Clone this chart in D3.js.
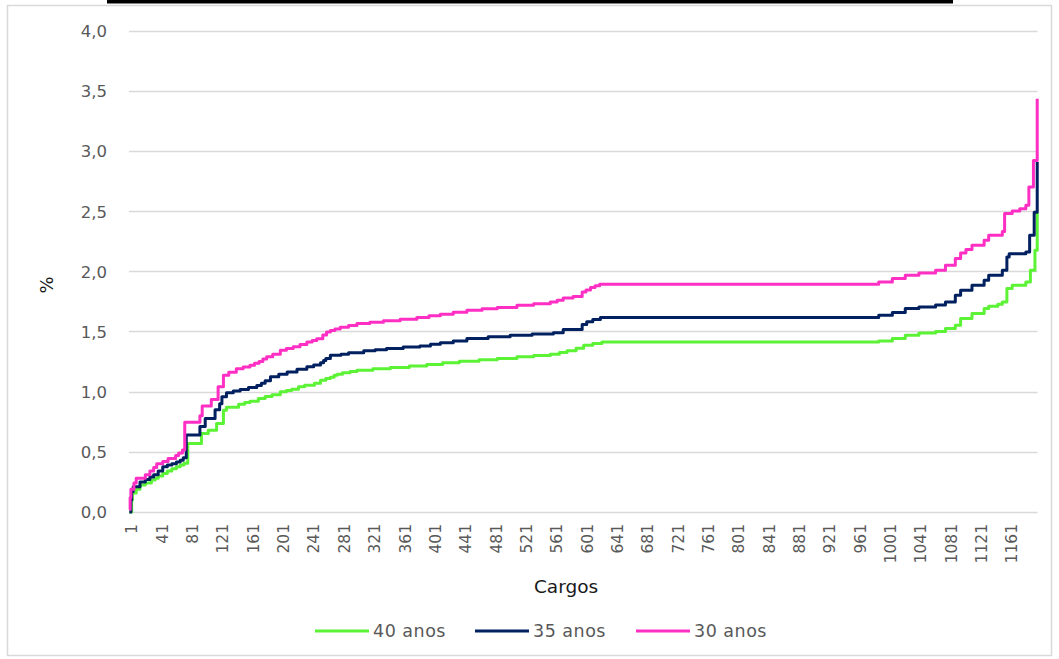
<!DOCTYPE html>
<html>
<head>
<meta charset="utf-8">
<script src="https://cdn.jsdelivr.net/npm/d3@7"></script>
<style>
  html, body { margin: 0; padding: 0; background: #ffffff; }
  svg { display: block; }
</style>
</head>
<body>
<svg id="chart" width="1059" height="659"></svg>
<script>
// Number of cargos (positions) on the category axis
const cargoCount = 1198;

// Category labels shown on the x axis (every 40th cargo)
const xTickLabels = [1, 41, 81, 121, 161, 201, 241, 281, 321, 361, 401, 441, 481, 521, 561,
  601, 641, 681, 721, 761, 801, 841, 881, 921, 961, 1001, 1041, 1081, 1121, 1161];

// Value axis ticks (%)
const yTickValues = [0, 0.5, 1.0, 1.5, 2.0, 2.5, 3.0, 3.5, 4.0];

const seriesNames = ["40 anos", "35 anos", "30 anos"];

// Each series: [cargo, %] at every step change; the value holds until the next entry
const anos40 = [
  [1, 0.0], [4, 0.10], [5, 0.157], [10, 0.19], [15, 0.224], [22, 0.24], [30, 0.265], [35, 0.28],
  [39, 0.30], [45, 0.32], [51, 0.34], [57, 0.36], [63, 0.375], [68, 0.39], [73, 0.404],
  [78, 0.57], [96, 0.653], [105, 0.68], [116, 0.736], [125, 0.846], [129, 0.87], [145, 0.896],
  [153, 0.91], [160, 0.92], [171, 0.943], [180, 0.96], [189, 0.975], [200, 0.998], [208, 1.01],
  [215, 1.02], [224, 1.04], [232, 1.054], [245, 1.07], [253, 1.095], [260, 1.11], [266, 1.12],
  [271, 1.135], [275, 1.145], [282, 1.156], [292, 1.167], [301, 1.178], [322, 1.19], [345, 1.20],
  [370, 1.212], [393, 1.225], [414, 1.24], [436, 1.253], [462, 1.264], [486, 1.275], [512, 1.289],
  [534, 1.30], [556, 1.31], [568, 1.325], [578, 1.339], [590, 1.36], [600, 1.386], [612, 1.40],
  [624, 1.413],
  [989, 1.42], [1007, 1.441], [1024, 1.469], [1042, 1.488], [1064, 1.50], [1077, 1.524],
  [1090, 1.552], [1097, 1.607], [1112, 1.649], [1128, 1.69], [1134, 1.71], [1146, 1.725],
  [1152, 1.745], [1158, 1.856], [1165, 1.884], [1183, 1.911], [1189, 2.008], [1195, 2.174],
  [1198, 2.49]
];

const anos35 = [
  [1, 0.0], [3, 0.10], [4, 0.17], [6, 0.21], [15, 0.25], [22, 0.27], [28, 0.29], [33, 0.31],
  [39, 0.34], [45, 0.376], [51, 0.39], [57, 0.40], [63, 0.415], [68, 0.43], [72, 0.45],
  [76, 0.64], [94, 0.71], [101, 0.777], [114, 0.85], [120, 0.90], [123, 0.957], [129, 0.99],
  [138, 1.005], [147, 1.018], [158, 1.035], [169, 1.05], [175, 1.07], [180, 1.09], [187, 1.123],
  [198, 1.145], [209, 1.164], [222, 1.185], [235, 1.206], [244, 1.222], [253, 1.24], [257, 1.258],
  [260, 1.275], [266, 1.303], [280, 1.311], [290, 1.322], [310, 1.339], [325, 1.348],
  [340, 1.358], [362, 1.37], [384, 1.38], [398, 1.393], [411, 1.405], [428, 1.42], [446, 1.441],
  [474, 1.455], [503, 1.469], [532, 1.478], [560, 1.49], [573, 1.516], [598, 1.557], [604, 1.58],
  [612, 1.60], [622, 1.616],
  [989, 1.635], [1007, 1.657], [1024, 1.69], [1042, 1.704], [1064, 1.72], [1077, 1.745],
  [1090, 1.80], [1097, 1.842], [1112, 1.884], [1128, 1.925], [1134, 1.967], [1152, 2.008],
  [1158, 2.119], [1161, 2.146], [1183, 2.16], [1188, 2.299], [1194, 2.49], [1198, 2.907]
];

const anos30 = [
  [1, 0.02], [2, 0.12], [3, 0.19], [7, 0.24], [10, 0.28], [22, 0.31], [28, 0.34], [33, 0.37],
  [37, 0.40], [45, 0.42], [52, 0.445], [62, 0.47], [66, 0.49], [71, 0.515], [74, 0.745],
  [94, 0.80], [97, 0.88], [109, 0.935], [118, 1.04], [125, 1.137], [132, 1.16], [142, 1.19],
  [151, 1.205], [160, 1.22], [166, 1.235], [172, 1.25], [177, 1.27], [182, 1.29], [190, 1.31],
  [200, 1.344], [208, 1.358], [217, 1.372], [226, 1.392], [235, 1.413], [242, 1.425],
  [248, 1.44], [256, 1.47], [261, 1.496], [266, 1.508], [272, 1.52], [279, 1.535], [290, 1.55],
  [301, 1.566], [318, 1.577], [336, 1.588], [358, 1.602], [380, 1.616], [396, 1.63], [411, 1.643],
  [428, 1.66], [446, 1.676], [466, 1.688], [486, 1.699], [512, 1.718], [534, 1.73], [556, 1.745],
  [565, 1.76], [573, 1.778], [586, 1.79], [598, 1.828], [603, 1.845], [609, 1.865], [615, 1.88],
  [621, 1.892],
  [989, 1.911], [1007, 1.939], [1024, 1.967], [1042, 1.986], [1064, 2.008], [1077, 2.05],
  [1090, 2.105], [1097, 2.152], [1104, 2.18], [1112, 2.216], [1128, 2.257], [1134, 2.299],
  [1152, 2.33], [1155, 2.48], [1165, 2.50], [1175, 2.52], [1183, 2.548], [1187, 2.70],
  [1193, 2.921], [1198, 3.433]
];

const seriesData = [anos40, anos35, anos30];
const seriesColors = ["#5cf236", "#002060", "#ff2fc4"];

// ---------------------------------------------------------------------------
const svg = d3.select("#chart");
const W = 1059, H = 659;
const plot = { left: 129, right: 1037.6, top: 30.5, bottom: 512 };
const tickFont = "'DejaVu Sans', sans-serif";
const textFont = "'DejaVu Sans', sans-serif";
const gray = "#595959";

svg.append("rect").attr("width", W).attr("height", H).attr("fill", "#ffffff");

// Chart frame
svg.append("rect")
  .attr("x", 7.5).attr("y", 5.5)
  .attr("width", 1044).attr("height", 650)
  .attr("fill", "none").attr("stroke", "#d9d9d9").attr("stroke-width", 1.5);

// Black rule above the frame
svg.append("rect")
  .attr("x", 107).attr("y", 0).attr("width", 846).attr("height", 3.5)
  .attr("fill", "#000000");

const x = d3.scaleLinear()
  .domain([0.5, cargoCount + 0.5])
  .range([plot.left, plot.right]);

const y = d3.scaleLinear()
  .domain([0, 4])
  .range([plot.bottom, plot.top]);

const ptBR = d3.formatLocale({ decimal: ",", thousands: ".", grouping: [3], currency: ["R$", ""] });
const fmt1 = ptBR.format(".1f");

// Horizontal gridlines
svg.append("g")
  .selectAll("line")
  .data(yTickValues)
  .join("line")
  .attr("x1", plot.left).attr("x2", plot.right)
  .attr("y1", d => Math.round(y(d)) + 0.5).attr("y2", d => Math.round(y(d)) + 0.5)
  .attr("stroke", "#d9d9d9").attr("stroke-width", 1.3);

// Y axis labels
const yAxis = d3.axisLeft(y).tickValues(yTickValues).tickFormat(fmt1).tickSize(0).tickPadding(0);
const gy = svg.append("g").attr("transform", `translate(${plot.left - 22},0)`).call(yAxis);
gy.select(".domain").remove();
gy.selectAll("text")
  .attr("font-family", tickFont).attr("font-size", 16.5).attr("fill", gray)
  .attr("dy", "0.36em");

// X axis labels (rotated)
const xAxis = d3.axisBottom(x).tickValues(xTickLabels).tickFormat(d => String(d)).tickSize(0).tickPadding(0);
const gx = svg.append("g").attr("transform", `translate(2,${plot.bottom + 12})`).call(xAxis);
gx.select(".domain").remove();
gx.selectAll("text")
  .attr("font-family", tickFont).attr("font-size", 15.5).attr("fill", gray)
  .attr("text-anchor", "end")
  .attr("transform", "rotate(-90)")
  .attr("x", 0).attr("y", 0).attr("dx", 0).attr("dy", "0.36em");

// Series lines
const line = d3.line()
  .x(d => x(d[0]))
  .y(d => y(d[1]))
  .curve(d3.curveStepAfter);

svg.append("g")
  .selectAll("path")
  .data(seriesData)
  .join("path")
  .attr("d", d => line(d))
  .attr("fill", "none")
  .attr("stroke", (d, i) => seriesColors[i])
  .attr("stroke-width", 3)
  .attr("stroke-linejoin", "round")
  .attr("stroke-linecap", "butt");

// Axis titles
svg.append("text")
  .attr("x", 566).attr("y", 593)
  .attr("text-anchor", "middle")
  .attr("font-family", textFont).attr("font-size", 18.5).attr("fill", "#1a1a1a")
  .text("Cargos");

svg.append("text")
  .attr("transform", "translate(53,285) rotate(-90)")
  .attr("text-anchor", "middle")
  .attr("font-family", textFont).attr("font-size", 18).attr("fill", "#1a1a1a")
  .text("%");

// Legend
const legendX = [315, 475, 636];
const legend = svg.append("g")
  .selectAll("g")
  .data(seriesNames)
  .join("g")
  .attr("transform", (d, i) => `translate(${legendX[i]},631)`);

legend.append("line")
  .attr("x1", 0).attr("x2", 54).attr("y1", 0).attr("y2", 0)
  .attr("stroke", (d, i) => seriesColors[i]).attr("stroke-width", 3);

legend.append("text")
  .attr("x", 58).attr("y", 0).attr("dy", "0.36em")
  .attr("font-family", textFont).attr("font-size", 17.5).attr("letter-spacing", 0.5)
  .attr("fill", gray)
  .text(d => d);
</script>
</body>
</html>
